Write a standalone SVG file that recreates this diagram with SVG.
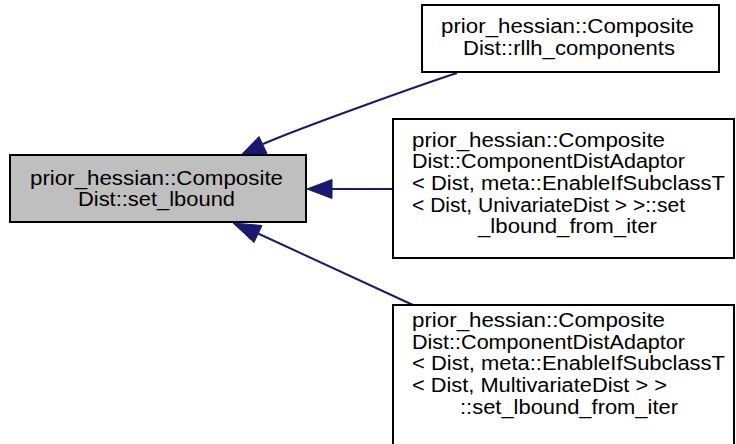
<svg xmlns="http://www.w3.org/2000/svg" width="736" height="444" viewBox="0 0 736 444">
<style>
.box{fill:#ffffff;stroke:#000000;stroke-width:2}
.cur{fill:#bfbfbf;stroke:#000000;stroke-width:2}
text{font-family:"Liberation Sans",Arial,Helvetica,sans-serif;font-size:20px;fill:#000000}
.edge{fill:none;stroke:#191970;stroke-width:2}
.head{fill:#191970;stroke:#191970;stroke-width:1}
</style>
<rect width="736" height="444" fill="#ffffff"/>
<g id="edges">
<path class="edge" d="M457,73 C420,85 300,128 263,144"/>
<polygon class="head" points="240,156 259,136.5 267,153.5"/>
<path class="edge" d="M393,189 L331,189"/>
<polygon class="head" points="307,189 332,179.5 332,198.5"/>
<path class="edge" d="M413,305 L257,233"/>
<polygon class="head" points="233,223 262,225.5 254,242.5"/>
</g>
<g id="node_main">
<rect class="cur" x="10" y="155" width="296" height="67"/>
<text x="30" y="185" textLength="253" lengthAdjust="spacingAndGlyphs">prior_hessian::Composite</text>
<text x="78" y="205.5" textLength="157" lengthAdjust="spacingAndGlyphs">Dist::set_lbound</text>
</g>
<g id="node_rllh">
<rect class="box" x="422" y="5" width="297" height="67"/>
<text x="441" y="32.5" textLength="253" lengthAdjust="spacingAndGlyphs">prior_hessian::Composite</text>
<text x="463" y="55" textLength="212" lengthAdjust="spacingAndGlyphs">Dist::rllh_components</text>
</g>
<g id="node_univariate">
<rect class="box" x="393" y="119" width="341" height="139"/>
<text x="412" y="146.7" textLength="253" lengthAdjust="spacingAndGlyphs">prior_hessian::Composite</text>
<text x="412" y="168.3" textLength="273" lengthAdjust="spacingAndGlyphs">Dist::ComponentDistAdaptor</text>
<text x="412" y="190" textLength="313" lengthAdjust="spacingAndGlyphs">&lt; Dist, meta::EnableIfSubclassT</text>
<text x="412" y="211.7" textLength="273" lengthAdjust="spacingAndGlyphs">&lt; Dist, UnivariateDist &gt; &gt;::set</text>
<text x="478" y="233.3" textLength="179" lengthAdjust="spacingAndGlyphs">_lbound_from_iter</text>
</g>
<g id="node_multivariate">
<rect class="box" x="393" y="305" width="341" height="150"/>
<text x="412" y="327" textLength="253" lengthAdjust="spacingAndGlyphs">prior_hessian::Composite</text>
<text x="412" y="348.7" textLength="273" lengthAdjust="spacingAndGlyphs">Dist::ComponentDistAdaptor</text>
<text x="412" y="370.3" textLength="313" lengthAdjust="spacingAndGlyphs">&lt; Dist, meta::EnableIfSubclassT</text>
<text x="412" y="392" textLength="255" lengthAdjust="spacingAndGlyphs">&lt; Dist, MultivariateDist &gt; &gt;</text>
<text x="460" y="413.7" textLength="218" lengthAdjust="spacingAndGlyphs">::set_lbound_from_iter</text>
</g>
</svg>
